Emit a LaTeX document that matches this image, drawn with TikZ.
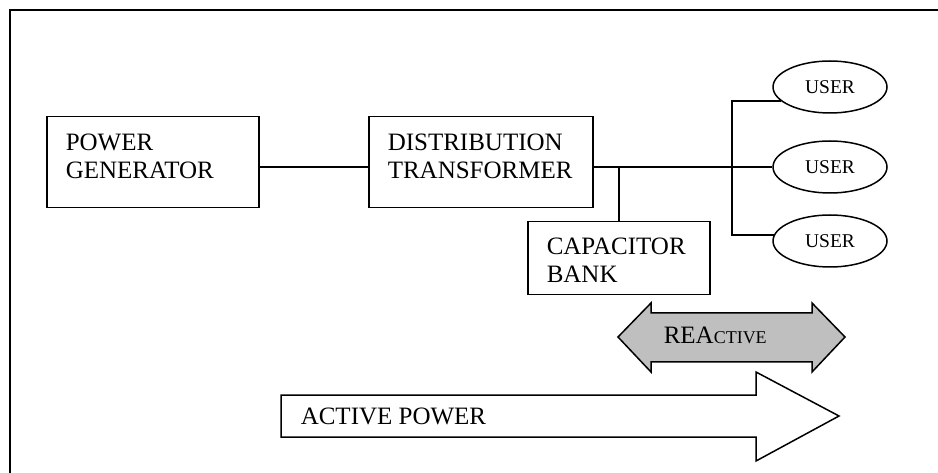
\documentclass[tikz,border=0pt]{standalone}
\usepackage{fontspec}
\setmainfont{Liberation Serif}
\usetikzlibrary{shapes.geometric,calc}
\begin{document}
\begin{tikzpicture}[x=1pt,y=-1pt, line width=1.5pt,
 box/.style={draw, rectangle, inner xsep=19pt, inner ysep=0pt, align=left,
   font=\fontsize{25}{28}\selectfont, anchor=north west},
 user/.style={draw, ellipse, minimum width=114pt, minimum height=52pt, inner sep=0pt,
   font=\fontsize{19.5}{22}\selectfont},
 wire/.style={line width=1.5pt},
 bigarrow/.style={draw, line width=1.5pt, line join=miter},
 lbl/.style={anchor=base west, inner sep=0pt, font=\fontsize{25}{28}\selectfont}]
\useasboundingbox (0,0) rectangle (938,473);
% frame
\draw[line width=2pt] (938,10) -- (10,10) -- (10,473);
% boxes
\node[box, text width=174pt, minimum height=91pt, text height=16.5pt, text depth=39.5pt] (PG) at (46,116) {POWER\\GENERATOR};
\node[box, text width=186pt, minimum height=91pt, text height=16.5pt, text depth=39.5pt] (DT) at (368,116) {DISTRIBUTION\\TRANSFORMER};
\node[box, text width=144pt, minimum height=73pt, text height=16.5pt, text depth=23.5pt] (CB) at (527,221) {CAPACITOR\\BANK};
% users
\node[user] (U1) at (830,87) {USER};
\node[user] (U2) at (830,167) {USER};
\node[user] (U3) at (830,241) {USER};
\coordinate (jx) at (732,0);
% wires
\draw[wire] (PG.east |- U2.west) -- (DT.west |- U2.west);
\draw[wire] (DT.east |- U2.west) -- (U2.west);
\draw[wire] (CB.north) -- (CB.north |- U2.west);
\draw[wire] (U1.196) -- (U1.196 -| jx) -- (U3.174 -| jx) -- (U3.174);
% reactive double arrow
\draw[bigarrow, fill=black!25] (618,337) -- (651,303) -- (651,313) -- (812,313) -- (812,303)
  -- (845,337) -- (812,372) -- (812,362) -- (651,362) -- (651,372) -- cycle;
\node[lbl] (RA) at (663,344) {REA{\fontsize{18}{20}\selectfont CTIVE}};
% active power arrow
\draw[bigarrow, fill=white] (281,395) -- (756,395) -- (756,372) -- (839,416) -- (756,461)
  -- (756,437) -- (281,437) -- cycle;
\node[lbl] (AP) at (300,424) {ACTIVE POWER};
\end{tikzpicture}
\end{document}
